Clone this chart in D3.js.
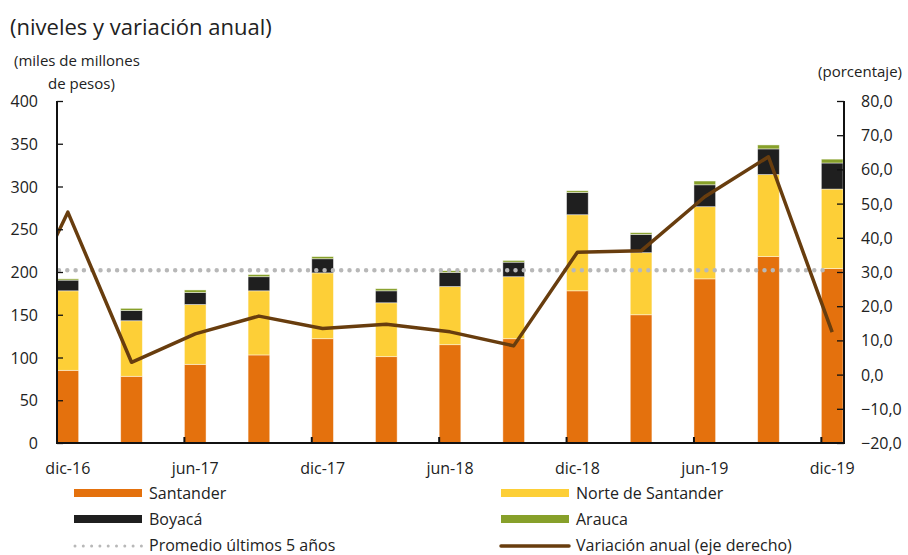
<!DOCTYPE html>
<html>
<head>
<meta charset="utf-8">
<script src="https://cdn.jsdelivr.net/npm/d3@7"></script>
<style>
  body { margin: 0; background: #fff; }
  text { font-family: "Open Sans", sans-serif; fill: #222; }
</style>
</head>
<body>
<svg id="chart" width="908" height="555"></svg>
<script>
// trimestres dic-16 .. dic-19
var quarters = ["dic-16", "mar-17", "jun-17", "sep-17", "dic-17", "mar-18", "jun-18",
                "sep-18", "dic-18", "mar-19", "jun-19", "sep-19", "dic-19"]
var tickLabels = ["dic-16", "jun-17", "dic-17", "jun-18", "dic-18", "jun-19", "dic-19"]

var santander = [85, 78, 92, 103, 122, 101, 115, 122, 178, 150, 192, 218, 204]
var norte     = [93, 65, 70, 75, 77, 63, 68, 72.5, 89, 72.6, 84.4, 96, 93]
var boyaca    = [12.5, 12, 14, 16.5, 16.5, 14, 16.5, 17, 26, 21.4, 25.6, 30, 30.5]
var arauca    = [1.5, 2.5, 3, 2.5, 2.5, 2.5, 2, 2, 2, 2, 4.4, 4.6, 4.5]

// variacion anual (%), el primer valor es sep-16 (queda recortado por el eje)
var variacionPrev = 8.7
var variacion = [47.5, 3.6, 11.9, 17.1, 13.5, 14.7, 12.5, 8.4, 35.8, 36.2, 52.0, 63.7, 12.4]

var promedio = 202

var leftTicks = [0, 50, 100, 150, 200, 250, 300, 350, 400]
var rightTicks = [-20, -10, 0, 10, 20, 30, 40, 50, 60, 70, 80]

var colors = {Santander: "#e4710d", Norte: "#fdcf37", Boyaca: "#1f1f1f", Arauca: "#87a02a",
              linea: "#683d0e", promedio: "#b8b8b8"}

var svg = d3.select("#chart")
var pLeft = 57, pRight = 844, pTop = 101, pBottom = 443

var x = d3.scaleBand().domain(quarters).range([pLeft, pRight - 1]).paddingInner(0.66).paddingOuter(0)
var y = d3.scaleLinear().domain([0, 400]).range([pBottom, pTop])
var y2 = d3.scaleLinear().domain([-20, 80]).range([pBottom, pTop])

// titles
svg.append("text").attr("x", 10).attr("y", 35).style("font-size", "22px")
   .text("(niveles y variación anual)")
svg.append("text").attr("x", 14).attr("y", 66).style("font-size", "15px").text("(miles de millones")
svg.append("text").attr("x", 48).attr("y", 89).style("font-size", "15px").text("de pesos)")
svg.append("text").attr("x", 902).attr("y", 77).attr("text-anchor", "end")
   .style("font-size", "15px").text("(porcentaje)")

// stacked bars
var rows = quarters.map(function(q, i) {
  return {q: q, Santander: santander[i], Norte: norte[i], Boyaca: boyaca[i], Arauca: arauca[i]}
})
var stack = d3.stack().keys(["Santander", "Norte", "Boyaca", "Arauca"])(rows)

svg.append("g").selectAll("g")
   .data(stack)
   .enter().append("g")
   .attr("fill", function(d) { return colors[d.key] })
   .selectAll("rect")
   .data(function(d) { return d })
   .enter().append("rect")
   .attr("x", function(d) { return x(d.data.q) })
   .attr("width", x.bandwidth())
   .attr("y", function(d) { return y(d[1]) })
   .attr("height", function(d) { return y(d[0]) - y(d[1]) })
   .attr("stroke", "rgba(255,255,255,0.55)")
   .attr("stroke-width", 0.8)

// promedio ultimos 5 anos
svg.append("line")
   .attr("x1", pLeft + 2).attr("x2", x(quarters[12]) + x.bandwidth() / 2 - 4)
   .attr("y1", y(promedio)).attr("y2", y(promedio))
   .attr("stroke", colors.promedio).attr("stroke-width", 4.5)
   .attr("stroke-linecap", "round").attr("stroke-dasharray", "0 8.3")

// variacion anual
svg.append("clipPath").attr("id", "clip")
   .append("rect").attr("x", pLeft).attr("y", 0).attr("width", pRight - pLeft).attr("height", 555)

var cx = function(i) { return x(quarters[0]) + x.bandwidth() / 2 + i * x.step() }
var pts = [[cx(-1), y2(variacionPrev)]].concat(variacion.map(function(v, i) { return [cx(i), y2(v)] }))

svg.append("path")
   .attr("clip-path", "url(#clip)")
   .attr("d", d3.line()(pts))
   .attr("fill", "none")
   .attr("stroke", colors.linea)
   .attr("stroke-width", 3.5)
   .attr("stroke-linejoin", "round")

// axes
var yAxis = svg.append("g").attr("transform", "translate(" + pLeft + ",0)")
   .call(d3.axisRight(y).tickValues(leftTicks).tickSize(6).tickFormat(""))
yAxis.select(".domain").remove()
yAxis.selectAll("line").attr("stroke", "#111").attr("stroke-width", 1.3)

svg.append("g").selectAll("text")
   .data(leftTicks)
   .enter().append("text")
   .attr("x", 38).attr("y", function(d) { return y(d) + 6 })
   .attr("text-anchor", "end").style("font-size", "16px")
   .text(function(d) { return d })

var y2Axis = svg.append("g").attr("transform", "translate(" + pRight + ",0)")
   .call(d3.axisLeft(y2).tickValues(rightTicks).tickSize(7).tickFormat(""))
y2Axis.select(".domain").remove()
y2Axis.selectAll("line").attr("stroke", "#111").attr("stroke-width", 1.3)

svg.append("g").selectAll("text")
   .data(rightTicks)
   .enter().append("text")
   .attr("x", 861).attr("y", function(d) { return y2(d) + 6 })
   .style("font-size", "16px")
   .text(function(d) { return d3.format(".1f")(d).replace(".", ",") })

// frame lines
svg.append("line").attr("x1", pLeft).attr("x2", pLeft).attr("y1", pTop).attr("y2", pBottom)
   .attr("stroke", "#111").attr("stroke-width", 2)
svg.append("line").attr("x1", pRight).attr("x2", pRight).attr("y1", pTop).attr("y2", pBottom)
   .attr("stroke", "#111").attr("stroke-width", 2)
svg.append("line").attr("x1", pLeft - 1).attr("x2", pRight + 1).attr("y1", pBottom).attr("y2", pBottom)
   .attr("stroke", "#111").attr("stroke-width", 2)

// x ticks and labels
svg.append("g").selectAll("line")
   .data(quarters.filter(function(d, i) { return i > 0 && i % 2 == 0 }))
   .enter().append("line")
   .attr("x1", function(d) { return x(d) }).attr("x2", function(d) { return x(d) })
   .attr("y1", pBottom).attr("y2", pBottom - 6)
   .attr("stroke", "#111").attr("stroke-width", 2)

svg.append("g").selectAll("text")
   .data(tickLabels)
   .enter().append("text")
   .attr("x", function(d) { return x(d) + x.bandwidth() / 2 })
   .attr("y", 474).attr("text-anchor", "middle").style("font-size", "16px")
   .text(function(d) { return d })

// legend
var legend = [
  {name: "Santander", type: "rect", color: colors.Santander, col: 0, row: 0},
  {name: "Norte de Santander", type: "rect", color: colors.Norte, col: 1, row: 0},
  {name: "Boyacá", type: "rect", color: colors.Boyaca, col: 0, row: 1},
  {name: "Arauca", type: "rect", color: colors.Arauca, col: 1, row: 1},
  {name: "Promedio últimos 5 años", type: "dots", color: colors.promedio, col: 0, row: 2},
  {name: "Variación anual (eje derecho)", type: "line", color: colors.linea, col: 1, row: 2}
]
var lg = svg.append("g").selectAll("g")
   .data(legend)
   .enter().append("g")
   .attr("transform", function(d) { return "translate(" + (d.col ? 501 : 74) + "," + (493 + d.row * 26) + ")" })

lg.filter(function(d) { return d.type == "rect" }).append("rect")
   .attr("x", 0).attr("y", -4).attr("width", 68).attr("height", 8)
   .attr("fill", function(d) { return d.color })
lg.filter(function(d) { return d.type == "dots" }).append("line")
   .attr("x1", 1).attr("x2", 68).attr("y1", 1).attr("y2", 1)
   .attr("stroke", function(d) { return d.color }).attr("stroke-width", 3)
   .attr("stroke-linecap", "round").attr("stroke-dasharray", "0 8.3")
lg.filter(function(d) { return d.type == "line" }).append("line")
   .attr("x1", 0).attr("x2", 68).attr("y1", 1).attr("y2", 1)
   .attr("stroke", function(d) { return d.color }).attr("stroke-width", 3.5)
   .attr("stroke-linecap", "round")
lg.append("text").attr("x", 75).attr("y", 6).style("font-size", "16px")
   .text(function(d) { return d.name })
</script>
</body>
</html>
